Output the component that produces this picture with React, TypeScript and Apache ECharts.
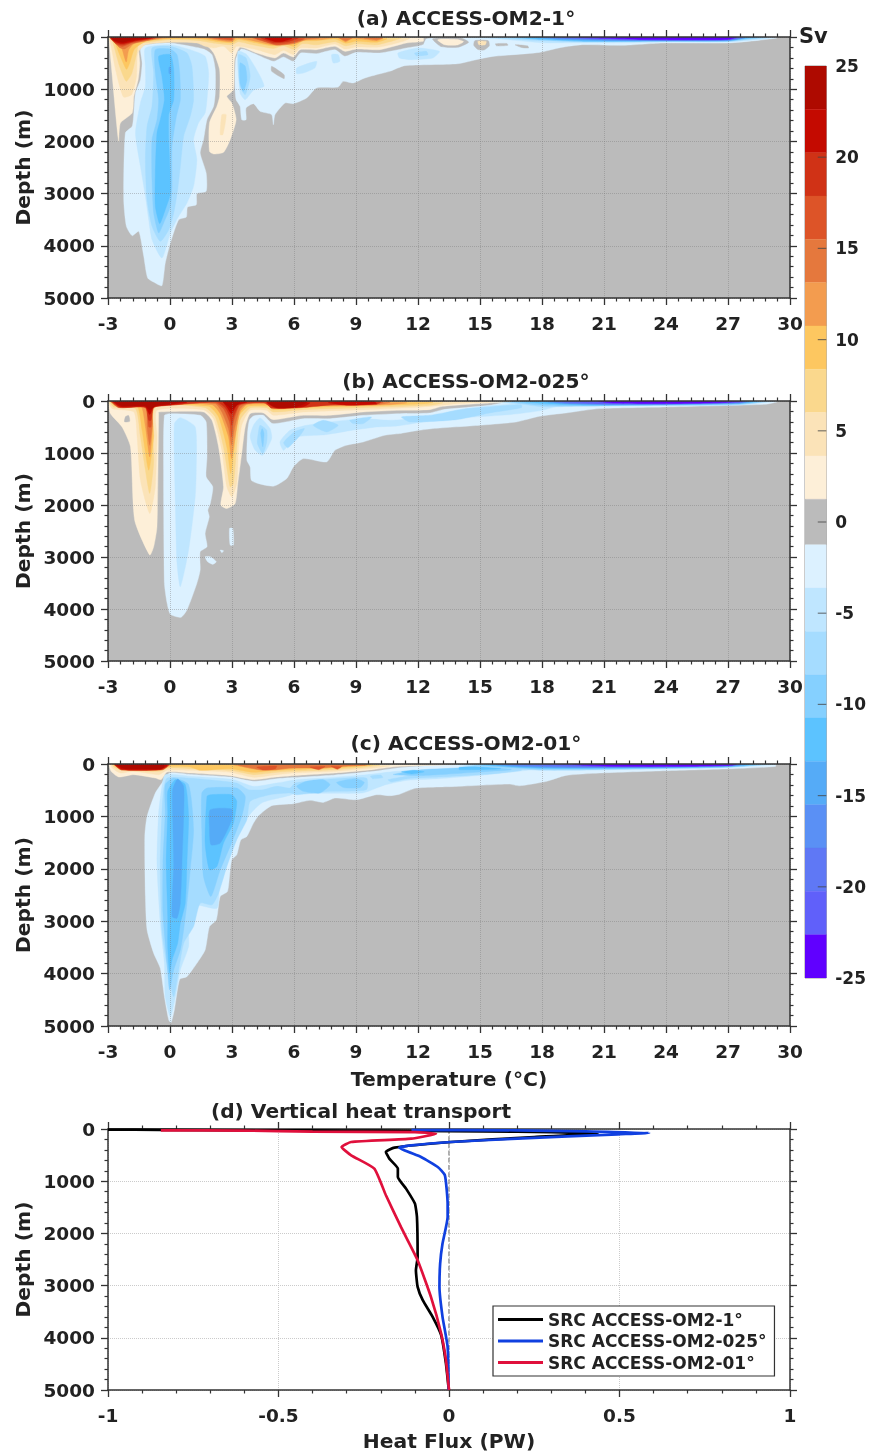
import React, { useEffect, useRef } from "react";
import * as echarts from "echarts";

type Poly = [number, number[][]];

const FONT = "DejaVu Sans";
const warmColors = ["#FDEFD8", "#FBE3B8", "#FAD88D", "#FDC760", "#F39C4F", "#E5783D", "#DD5428", "#D03216", "#C40A00", "#AE0A00"];
const coldColors = ["#DCF1FF", "#BFE6FF", "#A5DCFF", "#85D0FF", "#5CC3FF", "#55ABF7", "#5A90F5", "#5F78F5", "#6060FA", "#6000FF"];
const grayColor = "#BBBBBB";
const barEdges = [25, 22.625, 20.25, 17.875, 15.5, 13.125, 10.75, 8.375, 6, 3.625, 1.25, -1.25, -3.625, -6, -8.375, -10.75, -13.125, -15.5, -17.875, -20.25, -22.625, -25];
const barLevels = [10, 9, 8, 7, 6, 5, 4, 3, 2, 1, 0, -1, -2, -3, -4, -5, -6, -7, -8, -9, -10];
const barTicks = [-20, -15, -10, -5, 0, 5, 10, 15, 20];

const panelA: Poly[] = [
  [-1, [[-1.43,210],[-1.19,147],[0,115],[1.62,230],[2.03,338],[2.19,626],[2.19,1073],[2.11,1328],[1.79,1584],[1.62,1967],[1.46,2222],[1.75,2605],[1.75,2957],[1.30,3001],[1.27,3212],[0.85,3257],[0.79,3448],[0.42,3500],[0.02,3946],[-0.23,4330],[-0.39,4764],[-0.71,4713],[-1.08,4617],[-1.27,4202],[-1.51,3723],[-1.83,3806],[-2.11,3627],[-2.24,3116],[-2.16,1839],[-1.83,1711],[-1.75,1456],[-1.67,1073],[-1.43,817],[-1.35,498]]],
  [-1, [[3.15,1009],[3.18,434],[3.47,230],[5.0,466],[5.49,383],[5.97,466],[6.32,307],[7.09,319],[7.98,243],[8.46,370],[9.02,294],[10.15,307],[11.44,211],[12.25,147],[12.4,40],[13,8],[29.37,5],[29.37,20],[28.0,84],[26.88,116],[23.8,116],[21.88,160],[19.95,147],[18.92,200],[17.87,295],[15.62,372],[14.97,421],[13.92,512],[11.36,549],[10.63,658],[9.99,722],[9.43,785],[8.86,881],[8.38,849],[8.14,958],[7.09,977],[6.61,1169],[5.97,1277],[5.57,1264],[5.08,1488],[5.0,1680],[4.92,1488],[4.36,1424],[4.04,1277],[3.68,1360],[3.68,1584],[3.47,1584],[3.39,1328],[3.20,1200]]],
  [0, [[4.92,562],[5.52,722],[5.52,798],[4.92,658]]],
  [-2, [[-1.19,210],[0,147],[0.98,243],[1.70,370],[1.87,690],[1.79,1200],[1.70,1456],[1.38,1648],[1.14,1967],[1.30,2350],[1.14,2861],[0.82,3180],[0.37,3468],[0.02,3755],[-0.39,4234],[-0.87,3883],[-1.03,3500],[-1.19,3052],[-1.43,2478],[-1.67,1839],[-1.43,1264],[-1.19,945],[-1.19,562]]],
  [-3, [[-0.87,210],[0,179],[0.82,307],[1.06,562],[1.14,1200],[0.98,1520],[0.66,1903],[0.50,2478],[0.37,2925],[0.18,3372],[-0.06,3691],[-0.47,3915],[-0.87,3627],[-1.11,3116],[-1.19,2350],[-1.11,1711],[-0.87,1328],[-0.79,690]]],
  [-4, [[-0.71,243],[0,230],[0.34,338],[0.47,690],[0.50,1200],[0.31,1520],[0.10,2095],[0.10,2861],[0.02,3244],[-0.31,3564],[-0.55,3755],[-0.79,3372],[-0.87,2733],[-0.87,1967],[-0.63,1584],[-0.55,1200],[-0.71,690]]],
  [-5, [[-0.55,370],[0.02,338],[0.18,626],[0.18,1200],[-0.06,1488],[-0.06,1967],[0.02,2989],[-0.23,3308],[-0.50,3576],[-0.71,3244],[-0.71,2605],[-0.63,1839],[-0.47,1584],[-0.27,1200],[-0.39,753]]],
  [-6, [[-0.05,580],[0.03,580],[0.03,700],[-0.05,700]]],
  [-2, [[3.28,275],[3.72,338],[4.28,690],[4.55,945],[4.04,1022],[3.64,1200],[3.39,1073]]],
  [-3, [[3.31,338],[3.68,402],[3.88,753],[3.64,1105],[3.39,945]]],
  [-4, [[3.39,498],[3.64,562],[3.72,817],[3.55,1041],[3.39,881]]],
  [-2, [[6.13,594],[7.09,466],[7.01,594],[6.45,690],[6.13,703]]],
  [-2, [[7.82,338],[8.14,338],[8.22,466],[7.9,498]]],
  [-2, [[11.03,307],[12.0,211],[13.04,275],[12.72,402],[11.6,434],[11.1,402]]],
  [-3, [[11.84,307],[12.4,275],[12.48,338],[11.92,358]]],
  [1, [[-2.96,19],[-2.49,2000],[-2.40,1648],[-1.83,1456],[-1.75,1137],[-1.54,817],[-1.46,498],[-1.51,179],[-1.19,102],[0,64],[1.62,115],[2.11,307],[2.40,626],[2.40,1137],[2.27,1328],[1.91,1648],[1.91,2190],[2.11,2241],[2.59,2209],[2.91,1967],[3.20,1584],[2.99,1264],[2.75,1137],[3.07,1009],[3.12,434],[3.39,198],[4.2,307],[5.08,402],[5.49,307],[5.97,383],[6.29,243],[7.09,243],[7.98,179],[8.46,275],[9.02,230],[10.15,243],[11.44,115],[12.25,83],[12.25,19],[0,5],[-2.96,5]]],
  [2, [[2.51,1488],[2.72,1488],[2.56,1871],[2.43,1871]]],
  [2, [[-2.88,115],[-2.62,650],[-2.25,1150],[-1.85,1100],[-1.62,750],[-1.56,307],[-1.19,147],[0,100],[1.30,115],[1.7,179],[2.11,210],[2.59,179],[2.99,307],[3.23,179],[4.2,243],[5.08,338],[5.49,256],[5.97,338],[6.29,211],[7.09,211],[7.98,134],[8.46,230],[9.02,192],[10.15,192],[11.28,83],[11.6,19],[0,5],[-2.95,5]]],
  [3, [[-2.78,80],[-2.45,550],[-2.12,850],[-1.85,700],[-1.63,350],[-1.5,130],[-1,100],[0,50],[1.4,70],[2.2,120],[3,150],[3.3,90],[4,150],[5,220],[5.5,170],[6,240],[6.4,130],[7.1,150],[8,90],[8.5,170],[9,130],[10,150],[10.9,60],[11.2,15],[0,5],[-2.9,5]]],
  [4, [[-2.72,60],[-2.35,420],[-2.1,620],[-1.95,500],[-1.72,230],[-1.2,90],[-0.5,45],[0.5,35],[1.5,40],[2.3,90],[3,110],[3.3,50],[4,100],[5,170],[5.5,120],[6,180],[6.4,80],[7.1,70],[8,40],[8.5,120],[9,80],[10,100],[10.5,30],[9,8],[0,5],[-2.85,5]]],
  [5, [[-2.7,30],[-2.35,200],[-2.12,480],[-2.0,250],[-1.7,110],[-1,60],[0,20],[1.7,25],[2.3,60],[3,90],[3.2,25],[4,70],[5,150],[6,130],[6.5,60],[7.3,50],[7.9,20],[8.2,25],[8.5,95],[8.8,30],[9.5,50],[10,75],[10.3,15],[0,5],[-2.8,5]]],
  [6, [[-2.85,20],[-2.45,200],[-2.2,230],[-1.8,130],[-1,60],[-0.4,6],[-2.8,5]]],
  [6, [[1.9,15],[2.3,40],[3,70],[3.1,10]]],
  [6, [[4,20],[4.6,90],[5.2,160],[6,120],[6.6,45],[7.2,20],[5,6]]],
  [6, [[8.2,20],[8.5,70],[8.8,20]]],
  [6, [[9.4,20],[10,50],[10.3,15]]],
  [7, [[-2.9,10],[-2.55,150],[-2.3,180],[-1.9,120],[-1.3,70],[-0.6,10],[-2,5]]],
  [7, [[2.1,10],[2.5,35],[3,50],[3,5]]],
  [7, [[4.1,15],[4.7,100],[5.2,145],[6,100],[6.5,30],[5,6]]],
  [8, [[-2.88,8],[-2.62,120],[-2.3,150],[-1.75,90],[-1.1,45],[-0.7,8],[-2,5]]],
  [8, [[4.4,15],[5,110],[5.7,90],[6.2,20],[5,6]]],
  [9, [[-2.85,5],[-2.65,90],[-2.3,125],[-1.8,80],[-1.2,40],[-0.8,8]]],
  [9, [[4.6,20],[5.1,90],[5.5,80],[5.9,25],[5,6]]],
  [10, [[-2.85,5],[-2.7,60],[-2.3,100],[-1.9,60],[-1.3,30],[-0.9,8]]],
  [0, [[12.7,40],[13.1,180],[13.95,195],[14.45,100],[14.1,20],[13,15]]],
  [1, [[12.95,60],[13.3,150],[13.9,155],[14.2,90],[13.9,50],[13.1,40]]],
  [0, [[14.75,70],[15.4,70],[15.45,170],[15.2,250],[14.9,240],[14.7,160]]],
  [2, [[14.9,80],[15.3,85],[15.25,150],[14.95,150]]],
  [0, [[15.75,130],[16.3,125],[16.35,160],[15.8,170]]],
  [0, [[16.7,150],[17.3,170],[17.35,210],[17,200]]],
  [-2, [[14.5,10],[16,40],[18,110],[20,110],[22,110],[24,95],[27,95],[28.5,50],[29.2,10],[20,4]]],
  [-3, [[15.5,10],[18,70],[20,95],[24,85],[27,85],[28.3,35],[28.9,8],[20,4]]],
  [-4, [[16.5,8],[18,55],[20,85],[24,80],[27,80],[28.2,25],[28.7,8],[20,4]]],
  [-5, [[17,8],[18,45],[20,80],[24,75],[27,72],[28,20],[28.5,8],[20,4]]],
  [-6, [[17.5,8],[19,50],[21,70],[24,70],[27,68],[27.9,15],[28.3,8],[20,4]]],
  [-7, [[18,8],[19,40],[21,60],[24,65],[27,62],[27.8,12],[20,4]]],
  [-8, [[18.5,8],[20,40],[22,55],[24,62],[27,58],[27.7,10],[20,4]]],
  [-9, [[19,6],[20.5,35],[23,55],[27,52],[27.5,8],[22,4]]],
  [-10, [[19.8,5],[21,25],[23,50],[27,48],[27.4,5],[23,4]]],
];

const panelB: Poly[] = [
  [-1, [[-0.27,275],[0.02,243],[1.46,275],[1.75,403],[1.79,1075],[1.75,1459],[2.07,1651],[1.95,1971],[1.83,2099],[1.9,2227],[1.7,2547],[1.79,2803],[1.46,2899],[1.46,3251],[1.3,3507],[0.82,4019],[0.53,4160],[0.02,4102],[-0.14,3891],[-0.27,3507],[-0.31,1331]]],
  [-2, [[0.21,435],[0.5,320],[1.22,499],[1.27,1331],[1.22,1843],[0.9,2867],[0.5,3571],[0.34,3123],[0.26,1971]]],
  [-1, [[2.88,2451],[3.04,2451],[3.07,2771],[2.91,2771]]],
  [-1, [[1.7,2995],[1.95,2995],[2.24,3091],[2.07,3142],[1.82,3091]]],
  [-1, [[2.43,2867],[2.59,2880],[2.51,2918]]],
  [-1, [[3.72,1139],[3.75,627],[3.84,371],[4.04,288],[4.52,275],[4.97,435],[6.45,339],[7.74,339],[9.35,275],[11.11,243],[12.56,230],[13.2,166],[15.46,83],[16.5,10],[29.37,5],[29.37,19],[28.8,63],[23.99,115],[20.77,146],[19.16,230],[17.87,294],[16.75,403],[14.98,467],[12.72,530],[11.84,576],[11.11,626],[10.39,659],[9.35,787],[8.54,851],[7.98,947],[7.58,1171],[6.45,1107],[5.97,1267],[5.65,1491],[5,1638],[3.96,1536],[3.88,1267]]],
  [-2, [[4.04,467],[4.36,326],[4.84,531],[4.92,723],[4.49,1043],[4.12,947],[3.88,691]]],
  [-2, [[5.32,787],[5.81,563],[6.61,467],[7.74,403],[9.35,339],[10.63,371],[12.56,307],[13.85,179],[15.46,90],[18,30],[19,60],[18,180],[16.5,260],[15,300],[13,360],[12,420],[11,480],[10,500],[8.7,570],[7.5,650],[6,700],[5.5,950]]],
  [-3, [[6.93,467],[7.41,371],[8.14,467],[7.58,595]]],
  [-3, [[8.7,371],[9.75,307],[9.35,435],[8.86,435]]],
  [-3, [[11.2,307],[12.56,275],[14.33,147],[15.46,115],[17,70],[17,130],[15.46,230],[13.85,360],[11.6,403]]],
  [-3, [[4.36,467],[4.68,563],[4.68,787],[4.49,1011],[4.23,819],[4.28,595]]],
  [-4, [[4.46,531],[4.55,627],[4.49,883],[4.39,627]]],
  [-3, [[5.5,800],[6,600],[6.5,530],[6.3,660],[5.7,900]]],
  [-3, [[15.5,15],[17,60],[18,110],[20,100],[24,85],[27.5,75],[28.8,25],[29.2,6],[22,4]]],
  [-4, [[16.5,10],[18,80],[20,90],[24,78],[27.5,60],[28.6,15],[22,4]]],
  [-5, [[17,8],[18.5,60],[20,80],[24,72],[27.5,50],[28.4,10],[22,4]]],
  [-6, [[18,8],[19,55],[20.5,70],[24,66],[27.5,45],[28.2,8],[22,4]]],
  [-7, [[18.3,8],[19.3,50],[21,62],[24,62],[27.5,40],[28,8],[22,4]]],
  [-8, [[18.6,8],[19.5,45],[21,58],[24,58],[27.6,30],[27.9,6],[22,4]]],
  [-9, [[19,6],[20,38],[21.2,55],[24,55],[27.5,25],[27.8,6],[22,4]]],
  [-10, [[20.7,5],[21.5,40],[24,50],[26.5,35],[27.7,5],[24,4]]],
  [1, [[-3,19],[-2.88,243],[-2.32,499],[-1.91,883],[-1.71,2291],[-0.98,2963],[-0.79,2803],[-0.63,2419],[-0.55,243],[-0.55,211],[1.62,211],[2.03,371],[2.35,883],[2.59,1651],[2.46,2003],[2.75,2067],[3.15,1971],[3.28,1587],[3.47,1011],[3.64,499],[3.88,243],[4.52,230],[4.97,358],[6.45,275],[7.74,275],[9.35,211],[11.11,179],[12.56,166],[13.2,102],[15.46,38],[16.5,10],[5,4],[-3,4]]],
  [2, [[-2.8,147],[-1.75,211],[-1.59,691],[-1.43,1523],[-0.98,2163],[-0.71,1651],[-0.63,691],[-0.63,179],[1.62,166],[2.11,339],[2.51,947],[2.75,1651],[2.99,1843],[3.23,1587],[3.31,947],[3.47,467],[3.88,179],[4.68,179],[5,275],[6.45,211],[9.35,166],[12.24,115],[13.85,51],[15.46,19],[5,4],[-2.95,4]]],
  [0, [[-2.15,300],[-2,280],[-1.95,390],[-2.2,400]]],
  [3, [[-2.72,115],[-1.67,147],[-1.43,691],[-1.19,1331],[-0.98,1779],[-0.79,1203],[-0.71,115],[1.7,128],[2.19,307],[2.59,883],[2.91,1651],[3.07,1587],[3.23,883],[3.39,371],[3.88,134],[4.68,134],[5,211],[6.45,166],[9.35,128],[12.56,83],[13.2,32],[5,4],[-2.9,4]]],
  [4, [[-2.64,96],[-1.59,102],[-1.35,563],[-1.03,1331],[-0.79,691],[-0.76,102],[1.87,102],[2.35,307],[2.75,883],[2.94,1395],[3.1,947],[3.31,307],[3.8,102],[4.76,102],[5,166],[6.45,128],[9.35,96],[12.24,51],[12.72,26],[5,4],[-2.85,4]]],
  [5, [[-2.56,64],[-1.43,70],[-1.19,499],[-0.98,1075],[-0.84,499],[-0.79,83],[2.03,70],[2.43,243],[2.83,691],[2.98,1107],[3.15,691],[3.39,211],[3.72,70],[4.84,70],[5.16,128],[6.45,102],[10.63,70],[11.44,32],[5,4],[-2.8,4]]],
  [6, [[-2.48,32],[-1.19,38],[-1.11,499],[-0.98,851],[-0.85,435],[-0.79,51],[2.19,51],[2.51,211],[2.83,531],[2.98,851],[3.12,531],[3.39,147],[3.72,51],[4.92,38],[5.81,102],[7.41,83],[9.99,70],[10.63,26],[5,4],[-2.75,4]]],
  [7, [[-2.85,19],[-2.48,128],[-1.19,128],[-1.03,499],[-0.92,499],[-0.79,128],[0.02,83],[2.19,32],[2.59,147],[2.88,403],[2.98,691],[3.07,403],[3.39,83],[4.52,32],[4.84,96],[6.77,83],[9.99,51],[10.31,19],[5,4],[-2.9,4]]],
  [8, [[-2.8,19],[-2.4,125],[-1.19,125],[-1.03,371],[-0.92,371],[-0.79,125],[0.02,80],[2.27,19],[2.67,128],[2.91,307],[2.99,467],[3.07,307],[3.39,64],[4.6,32],[4.92,140],[6.45,125],[7.9,70],[9.99,65],[10.2,15],[5,4],[-2.85,4]]],
  [9, [[-2.75,19],[-2.4,110],[-1.19,110],[-0.98,260],[-0.79,110],[0.02,70],[0.82,30],[0.5,4],[-2.8,4]]],
  [9, [[2.59,19],[2.75,115],[2.98,243],[3.23,83],[3.72,19],[3,4]]],
  [9, [[4.68,26],[5.16,135],[6.45,110],[6.77,32],[5.5,4]]],
  [9, [[7.66,32],[8.7,83],[9.99,51],[9.9,15],[8.5,8]]],
  [10, [[-2.7,15],[-2.32,95],[-1.19,95],[-0.98,170],[-0.71,95],[0.02,60],[0.5,25],[-1,4],[-2.7,4]]],
  [10, [[2.59,19],[2.83,102],[2.99,166],[3.15,102],[3.39,19],[3,4]]],
  [10, [[4.72,26],[5.16,125],[6.13,110],[6.61,26],[5.5,4]]],
];

const panelC: Poly[] = [
  [-1, [[-0.02,172],[-0.39,363],[-0.71,554],[-1.11,1000],[-1.22,1382],[-1.19,2529],[-1.11,3166],[-0.79,3612],[-0.47,3898],[-0.27,4440],[-0.06,4886],[0.05,4937],[0.21,4695],[0.47,4109],[0.82,4058],[1.3,3803],[1.7,3548],[1.91,3102],[2.24,2975],[2.43,2529],[2.78,2433],[2.88,2147],[2.99,1828],[3.23,1733],[3.43,1446],[3.72,1382],[4.04,1127],[4.28,987],[4.92,796],[5.97,758],[6.77,694],[7.42,733],[7.98,650],[9.02,682],[10,586],[10.63,605],[11.11,575],[11.92,460],[13.85,429],[16.42,384],[16.9,416],[18.19,334],[19.16,218],[20.77,173],[23.99,128],[27.2,90],[29.3,46],[29.3,5],[14,8],[11.11,70],[9.83,140],[7.98,210],[5.97,260],[5.16,280],[4.04,330],[2.91,250],[0.98,200]]],
  [-2, [[-0.23,204],[0.98,236],[3.07,299],[4.04,427],[5.16,363],[6.13,299],[7.42,268],[9.5,204],[10.95,140],[13.85,76],[15.46,45],[16.5,10],[17.5,100],[15.46,200],[13,280],[11.5,310],[10.4,400],[9.35,550],[8.06,560],[7,560],[6,570],[5.8,600],[4.5,730],[4,900],[3.4,1200],[3,1500],[2.85,1800],[2.4,2300],[2.27,2752],[1.06,2688],[0.9,3166],[0.9,3484],[0.5,3930],[0.26,4440],[0.02,4822],[-0.23,4440],[-0.27,3803],[-0.47,3039],[-0.63,1892],[-0.55,936],[-0.39,427]]],
  [-3, [[-0.14,268],[0.82,268],[3.23,363],[3.8,490],[4.52,490],[5.16,427],[5.81,459],[6.05,363],[7.42,299],[9.5,268],[9.5,490],[7.74,522],[6.13,586],[5.81,554],[4.84,586],[3.88,713],[3.72,1064],[3.23,1446],[2.75,1956],[2.35,2465],[2.03,2688],[1.46,2656],[1.14,3102],[0.66,3421],[0.42,3930],[0.18,4440],[-0.11,3930],[-0.39,3166],[-0.47,1892],[-0.39,936],[-0.31,490]]],
  [-3, [[10.55,300],[12,200],[13.85,100],[15.46,70],[17,60],[17,120],[15.46,190],[13,250],[11.5,280],[10.7,340]]],
  [-3, [[9.7,230],[10.2,210],[10.3,260],[9.8,280]]],
  [-4, [[-0.23,395],[0.18,268],[0.9,395],[1.14,1255],[0.98,2019],[0.82,2656],[0.66,3166],[0.5,3548],[0.18,3930],[-0.02,4312],[-0.14,3803],[-0.34,2847],[-0.34,1892],[-0.23,936]]],
  [-4, [[1.54,554],[1.79,459],[3.23,459],[3.64,618],[3.47,1000],[2.91,1573],[2.43,2019],[1.98,2529],[1.62,2147],[1.54,1255]]],
  [-4, [[6.13,427],[6.61,331],[7.42,299],[7.74,395],[7.25,554],[6.45,522]]],
  [-4, [[8.06,350],[9,280],[9.4,350],[9.2,450],[8.4,450]]],
  [-4, [[10.8,200],[12.24,108],[15.46,57],[16.5,50],[16.5,110],[15.46,140],[12.24,220]]],
  [-5, [[-0.11,522],[0.26,299],[0.74,395],[0.9,1000],[0.82,1892],[0.74,2656],[0.5,3039],[0.37,3421],[0.1,3739],[-0.02,3994],[-0.11,3484],[-0.11,2911],[-0.18,1892],[-0.11,936]]],
  [-5, [[1.79,618],[1.95,586],[2.99,586],[3.23,713],[3.07,1127],[2.59,1510],[2.27,1956],[1.91,2019],[1.7,1510]]],
  [-5, [[11.2,150],[11.8,120],[12.3,150],[11.7,190]]],
  [-5, [[14,60],[16,40],[16,90],[14,110]]],
  [-6, [[0.13,490],[0.37,287],[0.66,427],[0.66,1000],[0.58,1892],[0.5,2656],[0.34,2943],[0.1,2911],[0.18,1892],[0.14,1127]]],
  [-6, [[1.95,873],[2.99,860],[2.99,1064],[2.43,1510],[1.98,1542],[1.91,1191]]],
  [-3, [[14,10],[16.5,90],[18,120],[19.5,120],[24,90],[27,65],[28.8,20],[29.2,5],[20,4]]],
  [-4, [[14.5,8],[16,60],[18,100],[20,100],[24,80],[27,58],[28.5,12],[20,4]]],
  [-5, [[15,8],[16.5,55],[18,80],[20,85],[24,72],[27,50],[28.2,10],[20,4]]],
  [-6, [[15.5,8],[16.5,45],[18,70],[20,75],[24,65],[27,45],[28,8],[20,4]]],
  [-7, [[15.8,6],[17,45],[18.5,60],[20.5,65],[24,60],[27,40],[27.8,6],[20,4]]],
  [-8, [[16.5,6],[18,40],[20,55],[24,55],[27,35],[27.6,6],[20,4]]],
  [-9, [[18,5],[19.5,40],[21,50],[24,50],[27,30],[27.4,5],[22,4]]],
  [-10, [[19.5,5],[20,25],[21.5,45],[25,45],[27.2,25],[27.4,5],[23,4]]],
  [1, [[-2.96,13],[-2.85,140],[-2.48,248],[-1.75,204],[-0.71,268],[-0.43,299],[-0.14,153],[0.98,172],[2.91,223],[4.04,299],[5.16,248],[5.97,223],[7.98,172],[9.83,108],[11.11,45],[13.85,13],[5,4],[-2.96,4]]],
  [2, [[-2.8,76],[-2.4,172],[-1.75,140],[-0.55,204],[-0.14,121],[0.98,121],[2.91,159],[4.04,255],[5.16,204],[5.97,172],[7.98,140],[9.83,76],[10.63,32],[5,4],[-2.85,4]]],
  [3, [[-2.72,57],[-2.32,121],[-0.55,140],[-0.06,76],[0.98,89],[2.91,121],[4.04,204],[5.16,159],[5.97,140],[7.98,108],[9.5,57],[10.15,19],[5,4],[-2.8,4]]],
  [4, [[-2.69,32],[-2.32,96],[-0.47,108],[0.02,45],[0.98,57],[1.46,121],[2.91,89],[4.04,159],[5.16,121],[5.97,108],[7.98,76],[9.5,32],[9.8,12],[5,4],[-2.75,4]]],
  [5, [[-2.69,19],[-2.32,76],[-0.39,83],[0.02,19],[-1,4],[-2.75,4]]],
  [5, [[3.07,13],[3.23,32],[4.52,121],[6.13,76],[8.06,45],[9.67,13],[6,4]]],
  [6, [[3.31,19],[4.36,108],[5.16,108],[5.81,76],[7.41,76],[8.2,50],[9.5,20],[6,6]]],
  [7, [[4.2,57],[4.52,115],[5.1,90],[5.16,38]]],
  [7, [[6.77,57],[7.2,108],[7.5,50]]],
  [7, [[7.8,45],[8.1,100],[8.3,50]]],
  [7, [[-2.7,13],[-2.35,115],[-0.35,110],[-0.05,13],[-1,4],[-2.7,4]]],
  [8, [[-2.68,13],[-2.35,108],[-0.4,105],[-0.08,13],[-1,4],[-2.68,4]]],
  [9, [[-2.66,13],[-2.3,100],[-0.5,105],[-0.15,40],[-0.15,10],[-1,4],[-2.66,4]]],
  [10, [[-2.6,13],[-2.2,85],[-1.5,90],[-0.5,95],[-0.3,60],[-0.3,10],[-1,4],[-2.6,4]]],
];

const heatBlack = [[-1,12],[-0.85,15],[-0.55,25],[-0.3,30],[-0.1,35],[0.1,45],[0.3,60],[0.436,89],[0.25,153],[0.006,249],[-0.16,357],[-0.185,440],[-0.175,568],[-0.15,759],[-0.15,919],[-0.126,1142],[-0.10,1429],[-0.094,1684],[-0.092,2450],[-0.097,2705],[-0.092,3024],[-0.077,3279],[-0.048,3598],[-0.023,3949],[-0.009,4491],[-0.001,4970],[0,5000]];
const heatBlue = [[-0.11,20],[0.2,25],[0.4,45],[0.587,77],[0.495,102],[0.2,185],[0.006,249],[-0.111,313],[-0.146,357],[-0.082,536],[-0.033,727],[-0.012,887],[-0.004,1429],[-0.004,1684],[-0.019,2195],[-0.026,2578],[-0.028,3024],[-0.019,3598],[-0.004,4172],[-0.001,5000]];
const heatRed = [[-0.845,25],[-0.6,30],[-0.4,50],[-0.1,60],[-0.038,89],[-0.111,185],[-0.287,249],[-0.315,344],[-0.287,504],[-0.219,759],[-0.185,1270],[-0.141,1876],[-0.092,2514],[-0.053,3216],[-0.023,3917],[-0.009,4428],[0,5000]];
const zeroLine = [[0,0],[0,5000]];

const titles = ["(a) ACCESS-OM2-1°", "(b) ACCESS-OM2-025°", "(c) ACCESS-OM2-01°", "(d) Vertical heat transport"];
const seriesNames = ["SRC ACCESS-OM2-1°", "SRC ACCESS-OM2-025°", "SRC ACCESS-OM2-01°"];

const levelColor = (l: number) => (l === 0 ? grayColor : l > 0 ? warmColors[l - 1] : coldColors[-l - 1]);
const TEXT = "#222222";
const AXIS = "#333333";
const label = (size = 18) => ({ fontFamily: FONT, fontWeight: "bold" as const, fontSize: size, color: TEXT });

const gridBoxes = [
  { top: 37, height: 261 },
  { top: 401, height: 260 },
  { top: 764, height: 262 },
  { top: 1129, height: 261 },
];

function xAxes(i: number, min: number, max: number, interval: number, name: string, gridColor: string, nameGap: number) {
  const base = {
    gridIndex: i, type: "value" as const, min, max, interval, z: 5,
    axisLine: { show: true, onZero: false, lineStyle: { color: AXIS, width: 1.5 } },
    axisTick: { show: true, length: 7, lineStyle: { color: AXIS, width: 1.3 } },
    minorTick: { show: true, splitNumber: 5, length: 3.5, lineStyle: { color: AXIS, width: 1.2 } },
  };
  return [
    { ...base, position: "bottom" as const, name, nameLocation: "middle" as const, nameGap, nameTextStyle: label(20.3),
      axisLabel: { ...label(18.5), margin: 16, showMinLabel: true, showMaxLabel: true },
      splitLine: { show: true, lineStyle: { color: gridColor, type: "dotted" as const, width: 1 } } },
    { ...base, position: "top" as const, axisLabel: { show: false }, splitLine: { show: false } },
  ];
}
function yAxes(i: number, gridColor: string) {
  const base = {
    gridIndex: i, type: "value" as const, min: 0, max: 5000, interval: 1000, inverse: true, z: 5,
    axisLine: { show: true, onZero: false, lineStyle: { color: AXIS, width: 1.5 } },
    axisTick: { show: true, length: 7, lineStyle: { color: AXIS, width: 1.3 } },
    minorTick: { show: true, splitNumber: 5, length: 3.5, lineStyle: { color: AXIS, width: 1.2 } },
  };
  return [
    { ...base, position: "left" as const, name: "Depth (m)", nameLocation: "middle" as const, nameGap: 72, nameRotate: 90, nameTextStyle: label(20.3),
      axisLabel: { ...label(18.5), margin: 13, formatter: (v: number) => String(v) },
      splitLine: { show: true, lineStyle: { color: gridColor, type: "dotted" as const, width: 1 } } },
    { ...base, position: "right" as const, axisLabel: { show: false }, splitLine: { show: false } },
  ];
}

function contourSeries(polys: Poly[], i: number) {
  return {
    type: "custom" as const,
    xAxisIndex: i * 2, yAxisIndex: i * 2, z: 2, clip: true, silent: true,
    data: polys.map((_, k) => [k]),
    renderItem: (_p: any, api: any) => {
      const poly = polys[api.value(0)];
      const color = levelColor(poly[0]);
      return {
        type: "polygon",
        shape: { points: poly[1].map((pt) => api.coord(pt)), smooth: 0.2 },
        style: { fill: color, stroke: color, lineWidth: 0.4 },
      };
    },
  };
}

export default function App() {
  const ref = useRef<HTMLDivElement>(null);
  useEffect(() => {
    const chart = echarts.init(ref.current!, undefined, { renderer: "svg" });
    const gridLine = "rgba(120,120,120,0.4)";
    const lightLine = "rgba(190,190,190,0.8)";
    const xs = [
      ...xAxes(0, -3, 30, 3, "", gridLine, 43),
      ...xAxes(1, -3, 30, 3, "", gridLine, 43),
      ...xAxes(2, -3, 30, 3, "Temperature (°C)", gridLine, 43),
      ...xAxes(3, -1, 1, 0.5, "Heat Flux (PW)", lightLine, 41),
      { gridIndex: 4, type: "value" as const, min: 0, max: 1, show: false },
    ];
    const ys = [
      ...yAxes(0, gridLine),
      ...yAxes(1, gridLine),
      ...yAxes(2, gridLine),
      ...yAxes(3, lightLine),
      {
        gridIndex: 4, type: "value" as const, min: -25, max: 25, interval: 5, position: "right" as const, z: 6,
        axisLine: { show: false },
        axisTick: { show: false },
        axisLabel: { ...label(17), margin: 9 },
        splitLine: { show: false },
      },
    ];
    const lineSeries = (name: string, data: number[][], color: string) => ({
      type: "line" as const, name, data, xAxisIndex: 6, yAxisIndex: 6, showSymbol: false, symbol: "none", z: 7, smooth: 0.15,
      lineStyle: { color, width: 2.7 }, itemStyle: { color },
    });
    chart.setOption({
      animation: false,
      backgroundColor: "#ffffff",
      title: [
        { text: titles[0], left: 466, top: 8 },
        { text: titles[1], left: 466, top: 371 },
        { text: titles[2], left: 466, top: 733 },
        { text: titles[3], left: 361, top: 1101 },
      ].map((t) => ({ ...t, textAlign: "center", padding: 0, textStyle: label(20.2) })),
      grid: [
        ...gridBoxes.slice(0, 3).map((b) => ({ left: 108, width: 682, top: b.top, height: b.height, show: true, backgroundColor: grayColor, borderWidth: 0 })),
        { left: 108, width: 682, top: gridBoxes[3].top, height: gridBoxes[3].height },
        { left: 805, width: 22, top: 66, height: 912, show: true, borderColor: "#999999", borderWidth: 1 },
      ],
      xAxis: xs,
      yAxis: ys,
      legend: {
        data: seriesNames, orient: "vertical", left: 493, top: 1306, icon: "rect",
        backgroundColor: "#ffffff", borderColor: "#333333", borderWidth: 1.2, borderRadius: 0,
        padding: [5, 8, 5, 5], itemWidth: 45, itemHeight: 3, itemGap: 4.5, z: 20,
        textStyle: { ...label(17) },
      },
      graphic: [
        { type: "text", left: 799, top: 25, z: 10, style: { text: "Sv", fontFamily: FONT, fontWeight: "bold", fontSize: 21, fill: TEXT } },
      ],
      series: [
        contourSeries(panelA, 0),
        contourSeries(panelB, 1),
        contourSeries(panelC, 2),
        {
          type: "line", name: "zero", data: zeroLine, xAxisIndex: 6, yAxisIndex: 6, showSymbol: false, symbol: "none", z: 3,
          lineStyle: { color: "#777777", width: 1.2, type: "dashed" },
        },
        lineSeries(seriesNames[0], heatBlack, "#000000"),
        lineSeries(seriesNames[1], heatBlue, "#1040E0"),
        lineSeries(seriesNames[2], heatRed, "#E0103C"),
        {
          type: "custom", xAxisIndex: 8, yAxisIndex: 8, z: 2, silent: true, clip: true,
          data: barLevels.map((_, k) => [k]),
          renderItem: (_p: any, api: any) => {
            const k = api.value(0);
            const a = api.coord([0, barEdges[k]]);
            const b = api.coord([1, barEdges[k + 1]]);
            const color = levelColor(barLevels[k]);
            return { type: "rect", shape: { x: a[0], y: a[1], width: b[0] - a[0], height: b[1] - a[1] }, style: { fill: color, stroke: color, lineWidth: 0.3 } };
          },
        },
        {
          type: "custom", xAxisIndex: 8, yAxisIndex: 8, z: 3, silent: true, clip: true,
          data: barTicks.map((v) => [0.6, v]),
          renderItem: (_p: any, api: any) => {
            const a = api.coord([api.value(0), api.value(1)]);
            const b = api.coord([1, api.value(1)]);
            return { type: "line", shape: { x1: a[0], y1: a[1], x2: b[0], y2: b[1] }, style: { stroke: "rgba(70,70,70,0.7)", lineWidth: 1.2 } };
          },
        },
      ],
    });
    return () => chart.dispose();
  }, []);
  return <div ref={ref} style={{ position: "absolute", left: 0, top: 0, width: 869, height: 1453, filter: "blur(0.4px)" }} />;
}
